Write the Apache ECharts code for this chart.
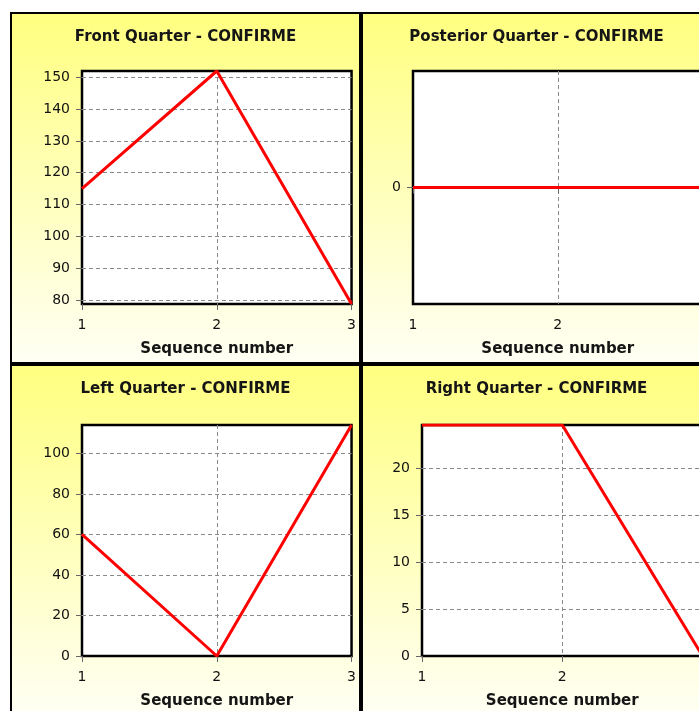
<!DOCTYPE html>
<html>
<head>
<meta charset="utf-8">
<script src="https://cdn.jsdelivr.net/npm/echarts@6/dist/echarts.min.js"></script>
<style>
  html, body { margin: 0; padding: 0; overflow: hidden; background: #fff; }
  body { width: 699px; height: 711px; position: relative; }
  .panel {
    position: absolute;
    box-sizing: border-box;
    width: 351px;
    height: 352px;
    border: 2px solid #000;
    background: linear-gradient(#ffff80, #fffff4);
  }
</style>
</head>
<body>
<div id="front" class="panel" style="left:10px;top:12px"></div>
<div id="posterior" class="panel" style="left:361px;top:12px"></div>
<div id="left" class="panel" style="left:10px;top:364px"></div>
<div id="right" class="panel" style="left:361px;top:364px"></div>

<script>
// sequence numbers on the x axis
const sequence = [1, 2, 3]

// values per quarter
const frontValues = [115, 152, 78.7]
const posteriorValues = [0, 0, 0]
const leftValues = [60, 0, 114]
const rightValues = [24.6, 24.6, 0]

const titles = {
  front: 'Front Quarter - CONFIRME',
  posterior: 'Posterior Quarter - CONFIRME',
  left: 'Left Quarter - CONFIRME',
  right: 'Right Quarter - CONFIRME'
}

const FONT = 'DejaVu Sans'
const labelStyle = { fontFamily: FONT, fontSize: 14, color: '#111' }

function makeOption(title, values, yAxisExtra, grid) {
  const split = {
    show: true,
    showMinLine: false,
    showMaxLine: false,
    lineStyle: { color: '#8a8a8a', width: 1, type: [4, 3] }
  }
  return {
    animation: false,
    title: {
      text: title,
      left: 'center',
      top: 16,
      padding: 0,
      textStyle: { fontFamily: FONT, fontWeight: 'bold', fontSize: 15, color: '#151515' }
    },
    grid: Object.assign({
      show: true,
      backgroundColor: '#fff',
      borderColor: '#000',
      borderWidth: 2.5,
      right: 6
    }, grid),
    xAxis: {
      type: 'value',
      min: 1,
      max: 3,
      interval: 1,
      name: 'Sequence number',
      nameLocation: 'middle',
      nameGap: 38,
      nameTextStyle: { fontFamily: FONT, fontWeight: 'bold', fontSize: 15, color: '#151515' },
      axisLine: { show: false },
      axisTick: { show: true, length: 6, lineStyle: { color: '#666' } },
      axisLabel: Object.assign({ margin: 14 }, labelStyle),
      splitLine: split
    },
    yAxis: Object.assign({
      type: 'value',
      axisLine: { show: false },
      axisTick: { show: true, length: 6, lineStyle: { color: '#666' } },
      axisLabel: Object.assign({ margin: 12, showMinLabel: false, showMaxLabel: false }, labelStyle),
      splitLine: split
    }, yAxisExtra),
    series: [
      {
        type: 'line',
        data: sequence.map((s, i) => [s, values[i]]),
        showSymbol: false,
        symbol: 'none',
        lineStyle: { color: '#ff0000', width: 3 }
      }
    ]
  }
}

const withMinLabel = Object.assign({ margin: 12, showMinLabel: true, showMaxLabel: false }, labelStyle)

const front = echarts.init(document.getElementById('front'))
front.setOption(makeOption(titles.front, frontValues,
  { min: 'dataMin', max: 'dataMax', splitNumber: 7 },
  { left: 70, top: 57, bottom: 55 }))

const posterior = echarts.init(document.getElementById('posterior'))
posterior.setOption(makeOption(titles.posterior, posteriorValues,
  { min: -1, max: 1, interval: 1 },
  { left: 50, top: 57, bottom: 55 }))

const leftChart = echarts.init(document.getElementById('left'))
leftChart.setOption(makeOption(titles.left, leftValues,
  { min: 0, max: 'dataMax', splitNumber: 5, axisLabel: withMinLabel },
  { left: 70, top: 59, bottom: 51 }))

const rightChart = echarts.init(document.getElementById('right'))
rightChart.setOption(makeOption(titles.right, rightValues,
  { min: 0, max: 'dataMax', splitNumber: 5, axisLabel: withMinLabel },
  { left: 59, top: 59, bottom: 51 }))
</script>
</body>
</html>
